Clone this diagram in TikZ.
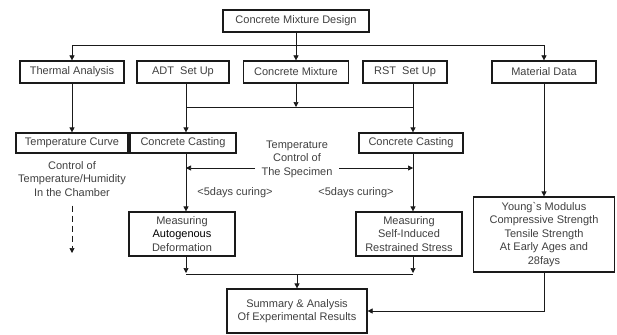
\documentclass[tikz,border=0pt]{standalone}
\usepackage{fontspec}
\setmainfont{Liberation Sans}
\usetikzlibrary{arrows.meta,positioning}
\definecolor{InkDark}{HTML}{1A1A1A}
\definecolor{InkText}{HTML}{404040}
\tikzset{
  stepbox/.style={draw=InkDark, line width=1.2pt, fill=white, inner sep=0pt,
             align=center, text=InkText, font=\fontsize{11}{13.5}\selectfont},
  flow/.style={line width=0.7pt, draw=InkDark},
  tip/.style={-{Triangle[length=5pt,width=5pt]}},
  note/.style={align=center, inner sep=0pt, text=InkText, font=\fontsize{11}{13.5}\selectfont},
}

\begin{document}
\begin{tikzpicture}[x=1pt,y=-1pt]
\useasboundingbox (0,0) rectangle (617,334);
% ---------------------------------------------------------------- boxes
\node[stepbox, minimum width=146pt, minimum height=22pt] (design) at (296,21) {Concrete Mixture Design};
\node[stepbox, minimum width=104pt, minimum height=22pt] (thermal) at (72,72) {Thermal Analysis};
\node[stepbox, minimum width=92pt, minimum height=22pt] (adt) at (183,72) {ADT~~Set Up};
\node[stepbox, minimum width=105pt, minimum height=22pt] (mix) at (296,72) {Concrete Mixture};
\node[stepbox, minimum width=84pt, minimum height=22pt] (rst) at (405,72) {RST~~Set Up};
\node[stepbox, minimum width=104pt, minimum height=22pt] (material) at (544,72) {Material Data};
\node[stepbox, minimum width=112pt, minimum height=20pt] (tcurve) at (72,143) {Temperature Curve};
\node[stepbox, minimum width=106pt, minimum height=20pt] (castL) at (183,143) {Concrete Casting};
\node[stepbox, minimum width=104pt, minimum height=20pt] (castR) at (411,143) {Concrete Casting};
\node[stepbox, minimum width=106pt, minimum height=44pt] (autog) at (182,234) {Measuring\\{\color{black}Autogenous}\\Deformation};
\node[stepbox, minimum width=106pt, minimum height=44pt] (selfind) at (409,234) {Measuring\\Self-Induced\\Restrained Stress};
\node[stepbox, minimum width=141pt, minimum height=75pt] (young) at (544,234.5) {Young\textasciigrave s Modulus\\Compressive Strength\\Tensile Strength\\At Early Ages and\\28fays};
\node[stepbox, minimum width=140pt, minimum height=44pt] (summary) at (297,311) {Summary \& Analysis\\Of Experimental Results};
% ---------------------------------------------------------------- notes
\node[note] (chamber) at (72,179) {Control of\\Temperature/Humidity\\In the Chamber};
\node[note] (specimen) at (297,159) {Temperature\\Control of\\The Specimen};
\node[note] (curingL) at (235,193) {<5days curing>};
\node[note] (curingR) at (356,193) {<5days curing>};
% ---------------------------------------------------------------- junctions
\coordinate (jtop) at (296,45);
\coordinate (jL) at (186,107);
\coordinate (jR) at (413,107);
\coordinate (jB) at (297,274);
\coordinate (specL) at (255,168);
\coordinate (specR) at (339,168);
\coordinate (chamberEnd) at (72,253);
% ---------------------------------------------------------------- connectors
\draw[flow, tip] (design) -- (mix);
\draw[flow, tip] (jtop) -| (thermal.north);
\draw[flow, tip] (jtop) -| (material.north);
\draw[flow] (adt.south -| jL) -- (jL) -- (jR) -- (rst.south -| jR);
\draw[flow, tip] (mix) -- (mix |- jL);
\draw[flow, tip] (thermal) -- (tcurve);
\draw[flow, tip] (jL) -- (castL.north -| jL);
\draw[flow, tip] (jR) -- (castR.north -| jR);
\draw[flow, tip] (material) -- (young);
\draw[flow, tip] (castL.south -| jL) -- (autog.north -| jL);
\draw[flow, tip] (castR.south -| jR) -- (selfind.north -| jR);
\draw[flow, tip] (specL) -- (specL -| jL);
\draw[flow, tip] (specR) -- (specR -| jR);
\draw[flow, dash pattern=on 6pt off 4pt, tip] ([yshift=-9pt]chamber.south) -- (chamberEnd);
\draw[flow, tip] (autog.south -| jL) -- ([yshift=1pt]jB -| jL);
\draw[flow, tip] (selfind.south -| jR) -- ([yshift=1pt]jB -| jR);
\draw[flow] (jB -| jL) -- (jB -| jR);
\draw[flow, tip] (jB) -- (summary.north);
\draw[flow, tip] (young.south) |- (summary.east);
\end{tikzpicture}
\end{document}
